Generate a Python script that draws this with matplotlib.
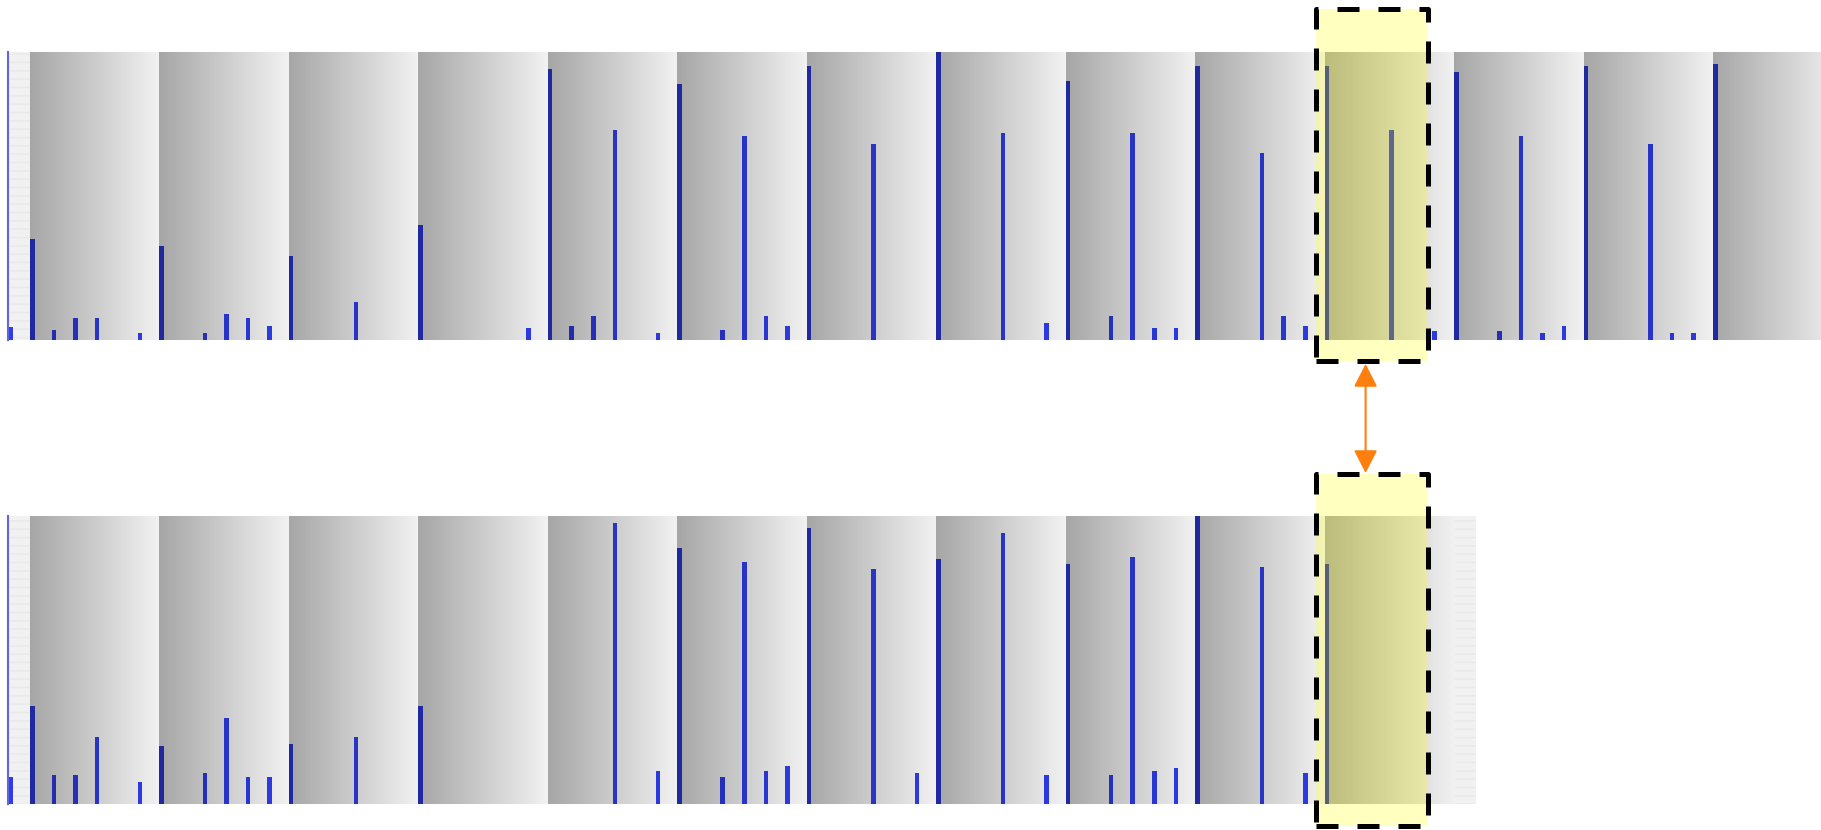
import numpy as np
import matplotlib
matplotlib.use('Agg')
import matplotlib.pyplot as plt
from matplotlib.colors import LinearSegmentedColormap
from matplotlib.patches import Rectangle, FancyArrowPatch
import matplotlib.transforms as mtransforms


# activity per 4-hour bin (6 bins per day), first bin = tail of previous day
top_counts = [4.4, 35, 3.4, 7.5, 7.5, 0, 2.5, 32.5, 0, 2.5, 9.1, 7.5, 5,
              29.2, 0, 0, 13.3, 0, 0, 40, 0, 0, 0, 0, 4.3,
              94, 5, 8.3, 73, 0, 2.5, 89, 0, 3.4, 71, 8.3, 5,
              95, 0, 0, 68, 0, 0, 100, 0, 0, 72, 0, 5.8,
              90, 0, 8.3, 72, 4.3, 4.3, 95, 0, 0, 65, 8.3, 5,
              95, 0, 0, 73, 0, 3.2, 93, 0, 3.2, 71, 2.5, 5,
              95, 0, 0, 68, 2.5, 2.5, 96, 0, 0, 0, 0, 0]
bottom_counts = [9.3, 34, 10, 10, 23.4, 0, 7.5, 20, 0, 10.9, 30, 9.3, 9.3,
                 20.8, 0, 0, 23.4, 0, 0, 34, 0, 0, 0, 0, 0,
                 0, 0, 0, 97.5, 0, 11.6, 89, 0, 9.3, 84, 11.6, 13.3,
                 95.7, 0, 0, 81.6, 0, 10.9, 85, 0, 0, 94, 0, 10,
                 83.3, 0, 10, 85.6, 11.6, 12.5, 100, 0, 0, 82.4, 0, 10.9,
                 83.2, 0, 0, 0, 0, 0, 0]
bins_per_day = 6
highlight = (60.6, 65.8)
arrow_bin = 62.9

W, H = 1821, 830
bin_px = 21.577
left_px = 8.4
strip_h = 288

fig = plt.figure(figsize=(W / 100, H / 100), dpi=100)
fig.patch.set_facecolor('white')

dark, light = np.array([166, 166, 166]) / 255, np.array([242, 242, 242]) / 255
day_cmap = LinearSegmentedColormap.from_list('day', [dark, light])
base_blue = np.array([48, 64, 245]) / 255
grad = np.linspace(0, 1, 256).reshape(1, -1)


def add_strip(counts, top_px):
    n = len(counts)
    ax = fig.add_axes([left_px / W, 1 - (top_px + strip_h) / H,
                       n * bin_px / W, strip_h / H])
    ax.set_facecolor('#f1f1f1')
    ax.add_patch(Rectangle((0, 0), 1, 1, transform=ax.transAxes, hatch='--',
                           fc='none', ec='#e9e9e9', lw=0, zorder=0))
    n_days = (n - 1) // bins_per_day
    for d in range(n_days):
        x0 = 1 + d * bins_per_day
        ax.imshow(grad, cmap=day_cmap, aspect='auto', interpolation='bilinear',
                  extent=(x0, x0 + bins_per_day, 0, 100), zorder=1)
    # spikes look multiplied onto the background
    colors = []
    for k in range(n):
        if 1 <= k < 1 + n_days * bins_per_day:
            t = ((k - 1) % bins_per_day + 0.1) / bins_per_day
            bg = dark + (light - dark) * t
        else:
            bg = light
        colors.append(np.clip(base_blue * bg, 0, 1))
    ax.bar(np.arange(n), counts, width=0.21, align='edge', color=colors, zorder=2)
    ax.set_xlim(0, n)
    ax.set_ylim(0, 100)
    ax.set_xticks([])
    ax.set_yticks([])
    for s in ['top', 'right', 'bottom']:
        ax.spines[s].set_visible(False)
    ax.spines['left'].set_color('#6464dc')
    ax.spines['left'].set_linewidth(1.5)
    return ax


ax_top = add_strip(top_counts, 52)
ax_bot = add_strip(bottom_counts, 516)

# highlight boxes (x in bins, y in figure)
tr = mtransforms.blended_transform_factory(ax_top.transData, fig.transFigure)
for y0, y1 in [(9.5, 361), (474, 826)]:
    yb, yt = 1 - y1 / H, 1 - y0 / H
    fig.add_artist(Rectangle((highlight[0], yb), highlight[1] - highlight[0], yt - yb,
                             transform=tr, fc=(1, 1, 0, 0.25), ec='none', zorder=3))
    fig.add_artist(Rectangle((highlight[0], yb), highlight[1] - highlight[0], yt - yb,
                             transform=tr, fc='none', ec='black', lw=3.6,
                             ls=(0, (4.4, 3.8)), joinstyle='round', zorder=4))

fig.add_artist(FancyArrowPatch((arrow_bin, 1 - 364 / H), (arrow_bin, 1 - 473 / H),
                               transform=tr, arrowstyle='<|-|>,head_length=0.7,head_width=0.36',
                               mutation_scale=20, color='#ff7f0e', lw=1.5,
                               shrinkA=0, shrinkB=0, zorder=5))

fig.savefig('out.png', dpi=100)
